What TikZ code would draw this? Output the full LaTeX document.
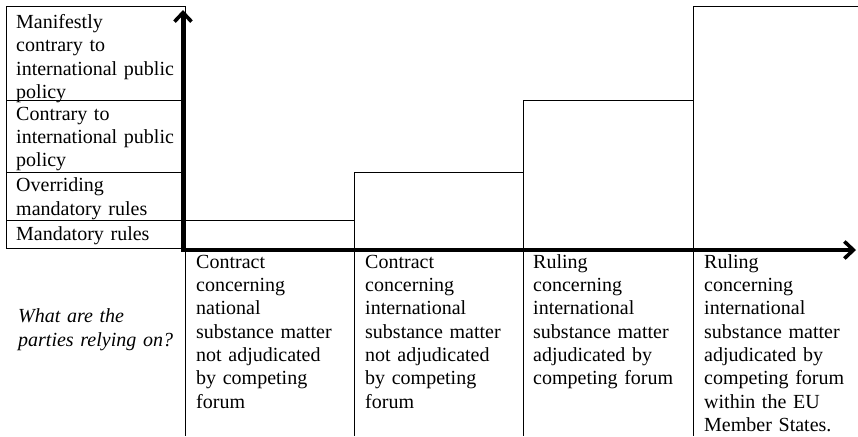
\documentclass[tikz,border=0pt]{standalone}
\usepackage{fontspec}
\setmainfont{Liberation Serif}
\usetikzlibrary{arrows.meta}
\tikzset{
  thin box/.style={draw=black, line width=0.9pt},
  axis/.style={line width=4pt, -{Straight Barb[length=9pt,width=17pt,line width=3.6pt]}},
  lbl/.style={anchor=north west, inner sep=0pt, align=left, text width=175pt,
    font=\fontsize{20}{23.3}\selectfont, execute at begin node={\rule{0pt}{15pt}}},
}
\begin{document}
\begin{tikzpicture}[x=1pt,y=-1pt]
\useasboundingbox (0,0) rectangle (858,436);
% left scale column
\draw[thin box] (6,6) rectangle (185,248);
\draw[thin box] (6,100) -- (185,100);
\draw[thin box] (6,172) -- (185,172);
\draw[thin box] (6,220) -- (354,220);
% steps
\draw[thin box] (354,249) -- (354,172) -- (523,172);
\draw[thin box] (523,249) -- (523,100) -- (693,100);
\draw[thin box] (693,249) -- (693,6) -- (858,6);
% column separators below the axis
\foreach \x in {185,354,523,693} \draw[thin box] (\x,249) -- (\x,436);
% axes
\coordinate (O) at (183,250);
\coordinate (Ostart) at (181,250);
\coordinate (Ytop) at (183,10);
\coordinate (Xend) at (856,250);
\draw[axis] (O) -- (Ytop);
\draw[axis] (Ostart) -- (Xend);
% left labels
\node[lbl] (l4) at (16,13.3) {Manifestly\\contrary to\\international public\\policy};
\node[lbl] (l3) at (16,105) {Contrary to\\international public\\policy};
\node[lbl] (l2) at (16,176.7) {Overriding\\mandatory rules};
\node[lbl] (l1) at (16,225.7) {Mandatory rules};
\node[lbl, font=\fontsize{20}{23.3}\selectfont\itshape] (q) at (18,307.5) {What are the\\parties relying on?};
% column labels
\node[lbl] (c1) at (196,253) {Contract\\concerning\\national\\substance matter\\not adjudicated\\by competing\\forum};
\node[lbl] (c2) at (365,253) {Contract\\concerning\\international\\substance matter\\not adjudicated\\by competing\\forum};
\node[lbl] (c3) at (533,253) {Ruling\\concerning\\international\\substance matter\\adjudicated by\\competing forum};
\node[lbl] (c4) at (704,253) {Ruling\\concerning\\international\\substance matter\\adjudicated by\\competing forum\\within the EU\\Member States.};
\end{tikzpicture}
\end{document}
